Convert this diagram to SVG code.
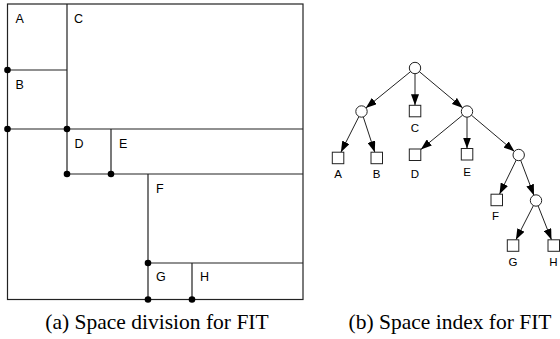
<svg xmlns="http://www.w3.org/2000/svg" width="560" height="339" viewBox="0 0 560 339">
<style>
.ln{stroke:#222;stroke-width:1.2;fill:none}
.dot{fill:#000}
.lbl{font-family:"Liberation Sans",Arial,sans-serif;font-size:12.5px;fill:#000}
.tl{font-family:"Liberation Sans",Arial,sans-serif;font-size:11.5px;fill:#000;text-anchor:middle}
.cap{font-family:"Liberation Serif","Times New Roman",serif;font-size:21.5px;fill:#000;text-anchor:middle}
.nd{fill:#fff;stroke:#222;stroke-width:1}
.ed{stroke:#222;stroke-width:1;fill:none;marker-end:url(#ah)}
</style>
<defs>
<marker id="ah" markerUnits="userSpaceOnUse" markerWidth="11" markerHeight="8" refX="11" refY="4" orient="auto">
<path d="M0,0 L11,4 L0,8 z" fill="#000"/>
</marker>
</defs>
<rect width="560" height="339" fill="#fff"/>
<g id="space-division">
<rect class="ln" x="7.5" y="4" width="295.5" height="295.5"/>
<path class="ln" d="M67,4 V174 M7.5,70 H67 M7.5,129 H303 M67,174 H303 M111,129 V174 M148,174 V299.5 M148,263 H303 M192,263 V299.5"/>
<circle class="dot" cx="7.5" cy="70" r="3.3"/>
<circle class="dot" cx="7.5" cy="129" r="3.3"/>
<circle class="dot" cx="67" cy="129" r="3.3"/>
<circle class="dot" cx="67" cy="174" r="3.3"/>
<circle class="dot" cx="111" cy="174" r="3.3"/>
<circle class="dot" cx="148" cy="263" r="3.3"/>
<circle class="dot" cx="148" cy="299.5" r="3.3"/>
<circle class="dot" cx="192" cy="299.5" r="3.3"/>
<text class="lbl" x="15.5" y="22.7">A</text>
<text class="lbl" x="74" y="22.7">C</text>
<text class="lbl" x="15.5" y="89">B</text>
<text class="lbl" x="74.5" y="148">D</text>
<text class="lbl" x="119" y="148">E</text>
<text class="lbl" x="156" y="193.3">F</text>
<text class="lbl" x="156" y="281">G</text>
<text class="lbl" x="200" y="281">H</text>
</g>
<g id="connectors">
<line class="ed" x1="410.7" y1="71.5" x2="365.8" y2="108"/>
<line class="ed" x1="415" y1="73.5" x2="415" y2="105.3"/>
<line class="ed" x1="419.2" y1="71.5" x2="462.8" y2="108"/>
<line class="ed" x1="359" y1="116.4" x2="340.9" y2="152.2"/>
<line class="ed" x1="363.2" y1="116.7" x2="374.8" y2="152.2"/>
<line class="ed" x1="462.8" y1="115" x2="420.8" y2="149.5"/>
<line class="ed" x1="467" y1="117" x2="467" y2="148.5"/>
<line class="ed" x1="471.2" y1="115" x2="514.5" y2="151.5"/>
<line class="ed" x1="516.3" y1="159.9" x2="499.5" y2="194.2"/>
<line class="ed" x1="520.6" y1="160.1" x2="534" y2="195.4"/>
<line class="ed" x1="533.5" y1="205.4" x2="515.9" y2="239.8"/>
<line class="ed" x1="538" y1="205.6" x2="551.5" y2="239.8"/>
</g>
<g id="root"><circle class="nd" cx="415" cy="68" r="5.7"/></g>
<g id="n-left"><circle class="nd" cx="361.5" cy="111.5" r="5.7"/></g>
<g id="n-right"><circle class="nd" cx="467" cy="111.5" r="5.7"/></g>
<g id="n-fp"><circle class="nd" cx="518.7" cy="155" r="5.7"/></g>
<g id="n-gp"><circle class="nd" cx="536" cy="200.5" r="5.7"/></g>
<g id="leaf-C"><rect class="nd" x="409.3" y="105.3" width="11.5" height="11.5"/><text class="tl" x="415" y="131.5">C</text></g>
<g id="leaf-A"><rect class="nd" x="332.3" y="152.2" width="11.5" height="11.5"/><text class="tl" x="338" y="177.5">A</text></g>
<g id="leaf-B"><rect class="nd" x="371" y="152.2" width="11.5" height="11.5"/><text class="tl" x="376.7" y="177.5">B</text></g>
<g id="leaf-D"><rect class="nd" x="409.3" y="149" width="11.5" height="11.5"/><text class="tl" x="415" y="177.5">D</text></g>
<g id="leaf-E"><rect class="nd" x="461.3" y="148.5" width="11.5" height="11.5"/><text class="tl" x="467" y="175.5">E</text></g>
<g id="leaf-F"><rect class="nd" x="491" y="194.2" width="11.5" height="11.5"/><text class="tl" x="495.5" y="220">F</text></g>
<g id="leaf-G"><rect class="nd" x="507.3" y="239.8" width="11.5" height="11.5"/><text class="tl" x="513" y="266">G</text></g>
<g id="leaf-H"><rect class="nd" x="548" y="239.8" width="11.5" height="11.5"/><text class="tl" x="553.5" y="266">H</text></g>
<g id="captions">
<text class="cap" x="157" y="328.5">(a) Space division for FIT</text>
<text class="cap" x="450" y="328.5">(b) Space index for FIT</text>
</g>
</svg>
